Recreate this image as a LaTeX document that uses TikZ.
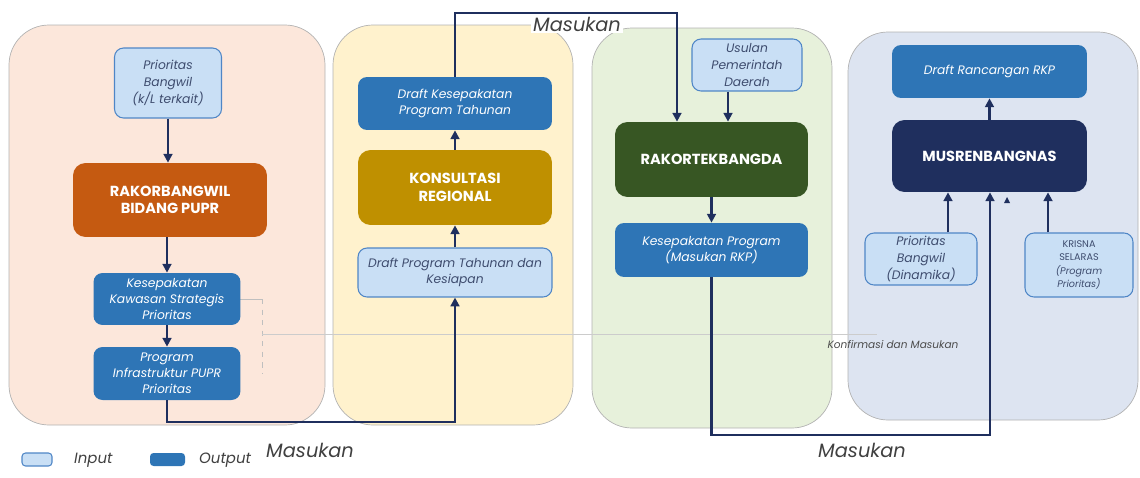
\documentclass[tikz,border=0pt]{standalone}
\usepackage{fontspec}
\setmainfont{Poppins}
\usetikzlibrary{arrows.meta}
\definecolor{inblue}{HTML}{C9DFF5}
\definecolor{inedge}{HTML}{4F86C6}
\definecolor{outblue}{HTML}{2E75B6}
\definecolor{navy}{HTML}{1F2F5E}
\definecolor{intext}{HTML}{3E4C6E}
\definecolor{peach}{HTML}{FCE7DB}
\definecolor{cream}{HTML}{FFF2CD}
\definecolor{mint}{HTML}{E7F1DB}
\definecolor{haze}{HTML}{DDE4F1}
\definecolor{rust}{HTML}{C55A11}
\definecolor{gold}{HTML}{BF9000}
\definecolor{forest}{HTML}{375623}

\begin{document}
\begin{tikzpicture}[x=0.02cm, y=-0.02cm,
		panel/.style={draw=black!30, line width=0.4pt, rounded corners=0.8cm},
		inbox/.style={draw=inedge, fill=inblue, rounded corners=0.18cm, line width=0.6pt, align=center, text=intext, font=\fontsize{7}{9.5}\selectfont\itshape, inner sep=0pt},
		outbox/.style={fill=outblue, rounded corners=0.18cm, align=center, text=white, font=\fontsize{7}{9}\selectfont\itshape, inner sep=0pt},
		bigbox/.style={rounded corners=0.25cm, align=center, text=white, font=\fontsize{8.3}{10}\selectfont\bfseries, inner sep=0pt},
		flow/.style={draw=navy, line width=1.5pt, -{Triangle[length=5pt,width=5pt]}},
		lbl/.style={font=\fontsize{11}{13}\selectfont\itshape, text=black!75}]
			%%%%% START %%%%%
			\useasboundingbox (0,0) rectangle (1140,477);
			
			% panels
			\draw[panel, fill=peach] (9,25) rectangle (325,425);
			\draw[panel, fill=cream] (333,25) rectangle (573,425);
			\draw[panel, fill=mint] (592,28) rectangle (832,428);
			\draw[panel, fill=haze] (848,32) rectangle (1138,420);
			
			% thin guide lines
			\draw[black!25, line width=0.4pt] (240,299) -- (262,299);
			\draw[black!25, line width=0.4pt, dashed] (262,299) -- (262,373);
			\draw[black!20, line width=0.4pt] (262,334) -- (877,334);
			\node[font=\fontsize{6}{7}\selectfont\itshape, text=black!70] (konf) at (893,345) {Konfirmasi dan Masukan};
			
			% panel 1
			\node[inbox, minimum width=2.14cm, minimum height=1.4cm] (pb1) at (168,83) {Prioritas\\Bangwil\\(k/L terkait)};
			\node[bigbox, fill=rust, minimum width=3.88cm, minimum height=1.48cm] (rakorbw) at (170,200) {RAKORBANGWIL\\BIDANG PUPR};
			\node[outbox, minimum width=2.94cm, minimum height=1.04cm] (kks) at (167,299) {Kesepakatan\\Kawasan Strategis\\Prioritas};
			\node[outbox, minimum width=2.94cm, minimum height=1.06cm] (pip) at (167,373.5) {Program\\Infrastruktur PUPR\\Prioritas};
			
			% panel 2
			\node[outbox, minimum width=3.88cm, minimum height=1.06cm] (dkpt) at (455,103.5) {Draft Kesepakatan\\Program Tahunan};
			\node[bigbox, fill=gold, minimum width=3.88cm, minimum height=1.5cm] (konreg) at (455,187.5) {KONSULTASI\\REGIONAL};
			\node[inbox, minimum width=3.88cm, minimum height=0.98cm] (dptk) at (455,272.5) {Draft Program Tahunan dan\\Kesiapan};
			
			% panel 3
			\node[inbox, minimum width=2.2cm, minimum height=1.04cm] (upd) at (747,65) {Usulan\\Pemerintah\\Daerah};
			\node[bigbox, fill=forest, minimum width=3.86cm, minimum height=1.5cm] (rakortek) at (711.5,159.5) {RAKORTEKBANGDA};
			\node[outbox, minimum width=3.86cm, minimum height=1.08cm] (kpm) at (711.5,250) {Kesepakatan Program\\(Masukan RKP)};
			
			% panel 4
			\node[outbox, minimum width=3.9cm, minimum height=1.06cm] (drr) at (989.5,71.5) {Draft Rancangan RKP};
			\node[bigbox, fill=navy, minimum width=3.9cm, minimum height=1.44cm] (musren) at (989.5,156) {MUSRENBANGNAS};
			\node[inbox, minimum width=2.24cm, minimum height=1.04cm] (pbd) at (921,259) {Prioritas\\Bangwil\\(Dinamika)};
			\node[inbox, minimum width=2.16cm, minimum height=1.28cm, font=\fontsize{5.5}{7.5}\selectfont] (krisna) at (1079,265) {KRISNA\\SELARAS\\\textit{(Program}\\\textit{Prioritas)}};
			
			% connectors
			\draw[flow] (pb1.south) -- (pb1.south |- rakorbw.north);
			\draw[flow] (kks.north |- rakorbw.south) -- (kks.north);
			\draw[flow] (kks) -- (pip);
			\coordinate (bend1) at (455,422);
			\draw[flow] (pip.south) |- (bend1) -- (dptk.south);
			\draw[flow] (dptk) -- (konreg);
			\draw[flow] (konreg) -- (dkpt);
			\coordinate (bend2) at (677,13);
			\draw[flow] (dkpt.north) |- (bend2) -- (bend2 |- rakortek.north);
			\draw[flow] ([xshift=-0.38cm]upd.south) -- ([xshift=-0.38cm]upd.south |- rakortek.north);
			\draw[flow] (rakortek) -- (kpm);
			\coordinate (bend3) at (990,435);
			\draw[flow] (kpm.south) |- (bend3) -- (bend3 |- musren.south);
			\draw[flow] (musren) -- (drr);
			\draw[flow] ([xshift=0.54cm]pbd.north) -- ([xshift=0.54cm]pbd.north |- musren.south);
			\draw[flow] ([xshift=-0.62cm]krisna.north) -- ([xshift=-0.62cm]krisna.north |- musren.south);
			\fill[navy] (1004,203) -- (1010,203) -- (1007,197) -- cycle;
			
			% labels
			\node[lbl, fill=white, inner sep=1pt] (mas2) at (577,24) {Masukan};
			\node[lbl] (mas1) at (310,450) {Masukan};
			\node[lbl] (mas3) at (862,450) {Masukan};
			
			% legend
			\draw[inbox, rounded corners=2pt] (22,453) rectangle (52,466);
			\node[lbl, font=\fontsize{8.5}{10}\selectfont\itshape, anchor=west] (lin) at (68,460) {Input};
			\fill[outblue, rounded corners=2pt] (150,453) rectangle (185,466);
			\node[lbl, font=\fontsize{8.5}{10}\selectfont\itshape, anchor=west] (lout) at (193,460) {Output};
			%%%%% END %%%%%
\end{tikzpicture}
\end{document}
